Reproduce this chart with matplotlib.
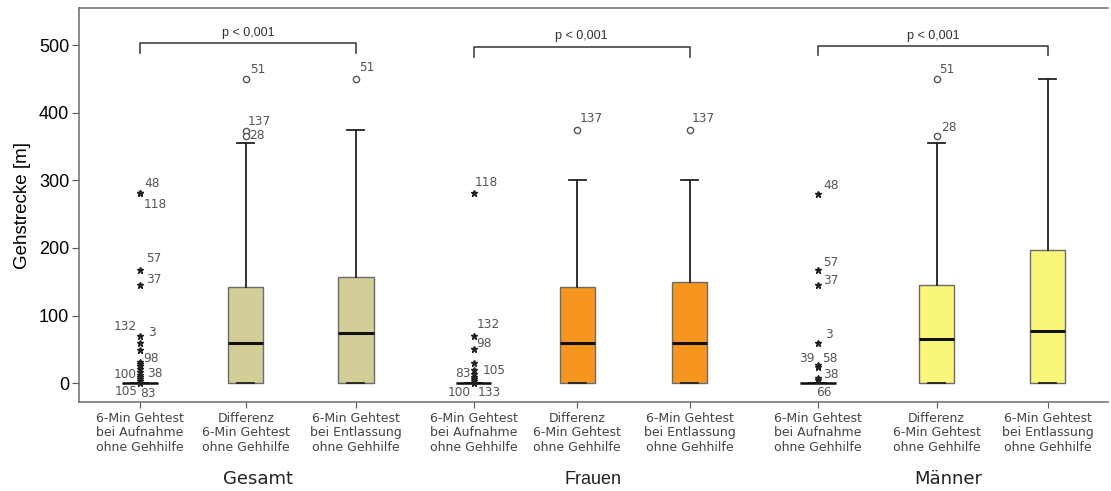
import matplotlib
matplotlib.use("Agg")
import matplotlib.pyplot as plt
import matplotlib.transforms as mtransforms

# Gehstrecke 6-Min Gehtest (m), Kennwerte je Box
groups = ["Gesamt", "Frauen", "Männer"]
tick_labels = ["6-Min Gehtest\nbei Aufnahme\nohne Gehhilfe",
               "Differenz\n6-Min Gehtest\nohne Gehhilfe",
               "6-Min Gehtest\nbei Entlassung\nohne Gehhilfe"] * 3

medians = [0, 59, 74, 0, 60, 60, 0, 65, 77]
q1 = [0, 0, 0, 0, 0, 0, 0, 0, 0]
q3 = [0, 142, 157, 0, 142, 150, 0, 145, 197]
whisker_lo = [0, 0, 0, 0, 0, 0, 0, 0, 0]
whisker_hi = [0, 355, 374, 0, 300, 300, 0, 355, 450]

# Extremwerte (*) und Ausreisser (o)
extremes = {
    0: [281, 281, 167, 145, 70, 59, 49, 31, 28, 25, 21, 17, 12, 9, 6, 3, 1],
    3: [281, 70, 50, 30, 20, 14, 9, 6, 3, 1],
    6: [280, 167, 145, 60, 27, 24, 8, 5],
}
outliers = {
    1: [450, 373, 365],
    2: [450],
    4: [375],
    5: [375],
    7: [450, 365],
}

# Fallnummern: (box, text, wert, dx, dy, ausrichtung)
case_labels = [
    (0, "48", 281, 4, 10, "left"), (0, "118", 281, 4, -11, "left"),
    (0, "57", 167, 6, 12, "left"), (0, "37", 145, 6, 6, "left"),
    (0, "132", 70, -3, 9, "right"), (0, "3", 70, 8, 3, "left"),
    (0, "98", 30, 3, 4, "left"), (0, "100", 10, -3, 2, "right"),
    (0, "38", 10, 7, 3, "left"), (0, "105", 0, -2, -8, "right"),
    (0, "83", 0, 0, -10, "left"),
    (1, "51", 450, 4, 9, "left"), (1, "137", 373, 2, 10, "left"),
    (1, "28", 365, 3, 1, "left"),
    (2, "51", 450, 3, 11, "left"),
    (3, "118", 281, 1, 11, "left"), (3, "132", 70, 3, 11, "left"),
    (3, "98", 50, 3, 6, "left"), (3, "83", 12, -3, 2, "right"),
    (3, "105", 12, 9, 5, "left"), (3, "100", 0, -3, -9, "right"),
    (3, "133", 0, 4, -9, "left"),
    (4, "137", 375, 2, 11, "left"),
    (5, "137", 375, 2, 11, "left"),
    (6, "48", 280, 5, 8, "left"), (6, "57", 167, 5, 8, "left"),
    (6, "37", 145, 5, 5, "left"), (6, "3", 60, 7, 8, "left"),
    (6, "39", 27, -3, 6, "right"), (6, "58", 27, 4, 6, "left"),
    (6, "38", 6, 5, 5, "left"), (6, "66", 0, -2, -9, "left"),
    (7, "51", 450, 3, 9, "left"), (7, "28", 365, 5, 9, "left"),
]

positions = [1.0, 1.99, 3.02, 4.12, 5.09, 6.14, 7.34, 8.45, 9.49]
group_label_x = [2.1, 5.24, 8.56]
box_colors = ["#D3CE98"] * 3 + ["#F7961F"] * 3 + ["#FAF67A"] * 3

fig = plt.figure(figsize=(11.11, 4.91), dpi=100)
ax = fig.add_axes([0.0711, 0.181, 0.9259, 0.8027])

stats = []
for i in range(len(positions)):
    stats.append({"med": medians[i], "q1": q1[i], "q3": q3[i],
                  "whislo": whisker_lo[i], "whishi": whisker_hi[i], "fliers": []})

bp = ax.bxp(stats, positions=positions, widths=0.33, capwidths=0.16,
            patch_artist=True, showfliers=False,
            boxprops=dict(edgecolor="#6b6b6b", linewidth=1.0),
            medianprops=dict(color="#111111", linewidth=2.2),
            whiskerprops=dict(color="#222222", linewidth=1.3),
            capprops=dict(color="#222222", linewidth=1.3))
for patch, c in zip(bp["boxes"], box_colors):
    patch.set_facecolor(c)
# zusammengefallene Boxen: Median ueber volle Boxbreite
for i, line in enumerate(bp["medians"]):
    if q3[i] == q1[i]:
        line.set_linewidth(1.8)

for i, vals in extremes.items():
    ax.plot([positions[i]] * len(vals), vals, linestyle="none", marker="*",
            markersize=4.5, color="#222222", zorder=4)
for i, vals in outliers.items():
    ax.plot([positions[i]] * len(vals), vals, linestyle="none", marker="o",
            markersize=4.5, markerfacecolor="white", markeredgecolor="#555555",
            markeredgewidth=1.0, zorder=4)

for i, txt, val, dx, dy, ha in case_labels:
    ax.annotate(txt, (positions[i], val), xytext=(dx, dy), textcoords="offset pixels",
                ha=ha, va="center", fontsize=8.7, color="#555555",
                family="DejaVu Sans")

# Signifikanzklammern
bracket_y = [[488, 503], [482, 498], [485, 499]]
for g in range(3):
    x0 = positions[3 * g]
    x1 = positions[3 * g + 2]
    lo, hi = bracket_y[g]
    ax.plot([x0, x0, x1, x1], [lo, hi, hi, lo], color="#444444", linewidth=1.2)
    ax.text((x0 + x1) / 2, hi + 6, "p < 0,001", ha="center", va="bottom",
            fontsize=9, color="#333333", family="Liberation Sans")

ax.set_xlim(0.43, 10.05)
ax.set_ylim(-28, 555)
ax.set_yticks([0, 100, 200, 300, 400, 500])
ax.set_xticks(positions)
ax.set_xticklabels(tick_labels, fontsize=9, color="#444444", family="DejaVu Sans",
                   linespacing=1.15)
for lab in ax.get_yticklabels():
    lab.set_fontsize(13)
    lab.set_family("Liberation Sans")
ax.tick_params(axis="y", length=5, color="#555555", pad=2)
ax.tick_params(axis="x", length=4, color="#555555", pad=3)
ax.set_ylabel("Gehstrecke [m]", fontsize=13.5, family="Liberation Sans", labelpad=6)

ax.spines["right"].set_visible(False)
for s in ["left", "bottom", "top"]:
    ax.spines[s].set_color("#777777")
    ax.spines[s].set_linewidth(1.2)

trans = mtransforms.blended_transform_factory(ax.transData, fig.transFigure)
group_fonts = ["DejaVu Sans", "Liberation Sans", "DejaVu Sans"]
for gx, name, fam in zip(group_label_x, groups, group_fonts):
    ax.text(gx, 0.024, name, transform=trans, ha="center", va="center",
            fontsize=13, color="#222222", family=fam)

fig.savefig("out.png", dpi=100)
